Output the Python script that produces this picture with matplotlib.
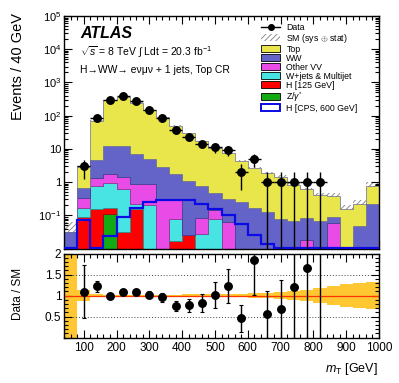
import numpy as np
import matplotlib
matplotlib.use('Agg')
import matplotlib.pyplot as plt
from matplotlib.patches import Patch
from matplotlib.lines import Line2D
from matplotlib.ticker import FixedLocator, MultipleLocator, FuncFormatter, NullFormatter

plt.rcParams['font.family'] = ['Liberation Sans', 'DejaVu Sans']
plt.rcParams['mathtext.fontset'] = 'custom'
plt.rcParams['mathtext.rm'] = 'Liberation Sans'
plt.rcParams['mathtext.it'] = 'Liberation Sans:italic'
plt.rcParams['mathtext.bf'] = 'Liberation Sans:bold'
plt.rcParams['hatch.linewidth'] = 0.6
plt.rcParams['hatch.color'] = '#808080'

# ---- data (mT bins of 40 GeV from 40 to 1000 GeV) ----
bin_edges = list(range(40, 1001, 40))
data = [0, 3, 87, 294, 380, 268, 150, 84, 38, 23, 14, 11, 9, 2, 5, 1, 1, 1, 1, 1, 0, 0, 0, 0]
zgamma = [0, 0, 0, 0.108, 0, 0, 0, 0, 0, 0, 0, 0, 0, 0, 0, 0, 0, 0, 0, 0, 0, 0, 0, 0]
h125 = [0, 0.088, 0.15, 0.06, 0.032, 0.16, 0, 0, 0.017, 0.025, 0, 0, 0, 0, 0, 0, 0, 0, 0, 0, 0, 0, 0, 0]
wjets = [0, 0.076, 0.63, 0.80, 0.57, 0.06, 0.2, 0, 0.062, 0, 0.028, 0.079, 0, 0, 0, 0, 0, 0, 0, 0, 0, 0, 0, 0]
othervv = [0, 0.166, 0.51, 0.81, 0.81, 0.67, 0.69, 0.31, 0.2, 0, 0.057, 0.064, 0.062, 0, 0, 0, 0, 0, 0.018, 0, 0.058, 0, 0, 0]
ww = [0.031, 0.34, 3.41, 10.5, 10.6, 6.3, 4.1, 2.44, 1.5, 1.075, 0.685, 0.317, 0.248, 0.25, 0.165, 0.13,
      0.08, 0.068, 0.067, 0.065, 0.03, 0, 0.046, 0.22]
top = [0, 2.08, 66.3, 287.7, 340, 238.8, 143, 85.25, 48.7, 28.9, 16.23, 10.34, 7.09, 4.1, 2.535, 1.69,
       1.37, 0.762, 0.515, 0.335, 0.282, 0.16, 0.174, 0.52]
h600 = [0, 0.070, 0, 0.023, 0.088, 0.165, 0.25, 0.29, 0.28, 0.28, 0.22, 0.157, 0.105, 0.053, 0.025, 0.014,
        0, 0, 0, 0, 0, 0, 0, 0]
sm_rel_unc = [1.0, 0.13, 0.03, 0.02, 0.02, 0.02, 0.02, 0.02, 0.02, 0.025, 0.03, 0.03, 0.035, 0.04, 0.05,
              0.07, 0.09, 0.11, 0.14, 0.18, 0.23, 0.28, 0.30, 0.32]

labels = ['Data', r'SM (sys $\oplus$ stat)', 'Top', 'WW', 'Other VV', 'W+jets & Multijet',
          'H [125 GeV]', r'Z/$\gamma^{*}$', 'H [CPS, 600 GeV]']

# ---- styling ----
c_top = '#e8e64a'
c_ww = '#6464c8'
c_vv = '#e94be6'
c_wj = '#48e4e4'
c_h = '#ff0000'
c_z = '#14aa14'
c_h600 = '#0a0ae6'
c_band = '#ffc832'

edges = np.array(bin_edges, float)
centers = 0.5 * (edges[:-1] + edges[1:])
comps = [np.array(zgamma), np.array(h125), np.array(wjets), np.array(othervv), np.array(ww), np.array(top)]
colors = [c_z, c_h, c_wj, c_vv, c_ww, c_top]
ecolors = ['#0a600a', '#990000', '#2a8a8a', '#8a2a88', '#3a3a8a', '#6a6a9a']
total = np.sum(comps, axis=0)
unc = np.array(sm_rel_unc)
d = np.array(data, float)

W, H = 399, 383
fig = plt.figure(figsize=(W / 100, H / 100), dpi=100)
axm = fig.add_axes([64 / W, 1 - 248.5 / H, 315 / W, 232.5 / H])
axr = fig.add_axes([64 / W, 1 - 337.5 / H, 315 / W, 84 / H])

floor = 1e-6
cum = np.zeros_like(total)
# uncertainty hatch (drawn below the stack)
axm.stairs(np.maximum(total * (1 + unc), floor), edges, baseline=np.maximum(total * (1 - unc), floor),
           fill=True, facecolor='none', edgecolor='#808080', hatch='//////', linewidth=0, zorder=1)
for comp, col, ec in zip(comps, colors, ecolors):
    newcum = cum + comp
    axm.stairs(np.maximum(newcum, floor), edges, baseline=np.maximum(cum, floor), fill=True,
               facecolor=col, edgecolor=ec, linewidth=0.5, zorder=2)
    cum = newcum
axm.stairs(np.maximum(np.array(h600), 0.0102), edges, baseline=None, color=c_h600, linewidth=1.6, zorder=3,
           clip_on=True)

mask = d > 0
yerr_lo = np.where(d > 1, np.sqrt(d), d - 1e-6)
axm.errorbar(centers[mask], d[mask], xerr=20, yerr=[yerr_lo[mask], np.sqrt(d[mask])], fmt='o',
             color='black', markersize=5.4, elinewidth=1.0, capsize=0, zorder=5)

axm.set_yscale('log')
axm.set_ylim(1e-2, 1e5)
axm.set_xlim(40, 1000)


def yfmt(v, pos):
    e = int(round(np.log10(v)))
    if e == -2:
        return ''
    if e == 0:
        return '1'
    if e == 1:
        return '10'
    return r'$10^{%d}$' % e


axm.yaxis.set_major_locator(FixedLocator([10.0 ** k for k in range(-2, 6)]))
axm.yaxis.set_major_formatter(FuncFormatter(yfmt))
axm.yaxis.set_minor_locator(FixedLocator([m * 10.0 ** k for k in range(-2, 5) for m in range(2, 10)]))
axm.yaxis.set_minor_formatter(NullFormatter())
for ax in (axm, axr):
    ax.xaxis.set_major_locator(MultipleLocator(100))
    ax.xaxis.set_minor_locator(MultipleLocator(20))
    ax.tick_params(which='both', direction='in', top=True, right=True, labelsize=8, pad=2, width=0.8)
    ax.tick_params(which='major', length=6)
    ax.tick_params(which='minor', length=3)
    for s in ax.spines.values():
        s.set_linewidth(1.0)
axm.tick_params(labelbottom=False)

# ---- ratio ----
axr.stairs(1 + unc, edges, baseline=1 - unc, fill=True, facecolor=c_band, edgecolor='none', zorder=1)
axr.axhline(1, color='#ff3300', linewidth=0.9, zorder=2)
for yv in (0.5, 1.5):
    axr.axhline(yv, color='#444444', linewidth=0.7, linestyle=(0, (1, 2)), zorder=1)
rmask = mask & (total > 0)
ratio = d[rmask] / total[rmask]
rerr = np.sqrt(d[rmask]) / total[rmask]
axr.errorbar(centers[rmask], ratio, yerr=rerr, fmt='o', color='black', markersize=5.4,
             elinewidth=1.0, capsize=1.5, capthick=0.8, zorder=5)
axr.set_xlim(40, 1000)
axr.set_ylim(0, 2)
axr.yaxis.set_major_locator(FixedLocator([0.5, 1, 1.5, 2]))
axr.yaxis.set_major_formatter(FuncFormatter(lambda v, p: '%g' % v))
axr.yaxis.set_minor_locator(MultipleLocator(0.1))
axr.tick_params(axis='x', labelsize=8.5, pad=3)
axr.tick_params(axis='y', labelsize=8.5)

# ---- texts ----
fig.text(80 / W, 1 - 38 / H, 'ATLAS', fontsize=11.5, fontweight='bold', fontstyle='italic', va='baseline')
fig.text(80 / W, 1 - 56 / H, r'$\sqrt{s}$ = 8 TeV $\int$ Ldt = 20.3 fb$^{-1}$', fontsize=7.5, va='baseline')
fig.text(80 / W, 1 - 73 / H, 'H\u2192WW\u2192 e\u03bd\u03bc\u03bd + 1 jets, Top CR', fontsize=7.5, va='baseline')
fig.text(18 / W, 1 - 13 / H, 'Events / 40 GeV', rotation=90, ha='center', va='top', fontsize=10.5)
fig.text(18 / W, 1 - 294 / H, 'Data / SM', rotation=90, ha='center', va='center', fontsize=8.5)
fig.text(378 / W, 1 - 372 / H, r'$m_{\mathrm{T}}$ [GeV]', ha='right', va='baseline', fontsize=9)

handles = [Line2D([], [], color='black', marker='o', markersize=4, linewidth=1.0),
           Patch(facecolor='white', edgecolor='#808080', hatch='//////', linewidth=0),
           Patch(facecolor=c_top, edgecolor='black', linewidth=0.6),
           Patch(facecolor=c_ww, edgecolor='black', linewidth=0.6),
           Patch(facecolor=c_vv, edgecolor='black', linewidth=0.6),
           Patch(facecolor=c_wj, edgecolor='black', linewidth=0.6),
           Patch(facecolor=c_h, edgecolor='black', linewidth=0.6),
           Patch(facecolor=c_z, edgecolor='black', linewidth=0.6),
           Patch(facecolor='white', edgecolor=c_h600, linewidth=1.4)]
fig.legend(handles, labels, loc='upper left', bbox_to_anchor=(261 / W, 1 - 23 / H), frameon=False,
           fontsize=6.3, handlelength=2.2, handleheight=0.85, labelspacing=0.0, handletextpad=0.7,
           borderaxespad=0, borderpad=0)

fig.savefig('out.png', dpi=100)
